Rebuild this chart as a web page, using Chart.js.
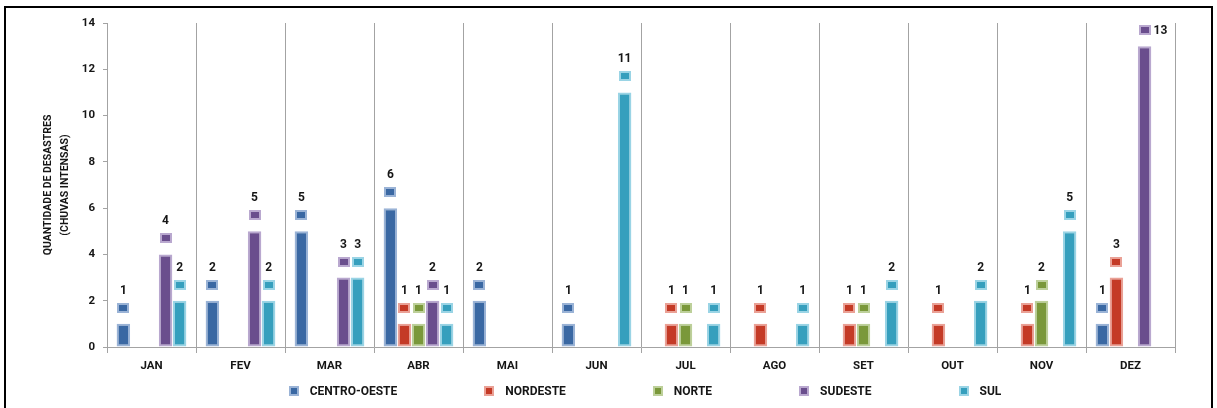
<!DOCTYPE html>
<html>
<head>
<meta charset="utf-8">
<script src="https://cdn.jsdelivr.net/npm/chart.js@4.4.1/dist/chart.umd.min.js"></script>
<style>
  html, body { margin: 0; padding: 0; background: #fff; width: 1217px; height: 408px; overflow: hidden; }
  #moldura { position: absolute; left: 4px; top: 6px; width: 1209px; height: 460px; border: 2px solid #000; box-sizing: border-box; }
  #grafico { position: absolute; left: 0; top: 0; }
</style>
</head>
<body>
<div id="moldura"></div>
<canvas id="grafico" width="1217" height="408"></canvas>
<script>
// Meses e número de desastres (chuvas intensas) por região
const meses = ['JAN', 'FEV', 'MAR', 'ABR', 'MAI', 'JUN', 'JUL', 'AGO', 'SET', 'OUT', 'NOV', 'DEZ'];
const centroOeste = [1, 2, 5, 6, 2, 1, 0, 0, 0, 0, 0, 1];
const nordeste    = [0, 0, 0, 1, 0, 0, 1, 1, 1, 1, 1, 3];
const norte       = [0, 0, 0, 1, 0, 0, 1, 0, 1, 0, 2, 0];
const sudeste     = [4, 5, 3, 2, 0, 0, 0, 0, 0, 0, 0, 13];
const sul         = [2, 2, 3, 1, 0, 11, 1, 1, 2, 2, 5, 0];
const regioes = ['CENTRO-OESTE', 'NORDESTE', 'NORTE', 'SUDESTE', 'SUL'];
const yMin = 0, yMax = 14, yPasso = 2;
const tituloY = ['QUANTIDADE DE DESASTRES', '(CHUVAS INTENSAS)'];

const FONTE = 'Roboto, "Open Sans", "Liberation Sans", sans-serif';
const TEXTO = '#161616';

// cor do preenchimento e cor clara da borda de cada região
const cores = [
  { fill: '#3a68a3', borda: '#9ab3d6' },
  { fill: '#c43a26', borda: '#eaa196' },
  { fill: '#7a983a', borda: '#bdd09a' },
  { fill: '#6a4e8d', borda: '#b9a8cf' },
  { fill: '#369fbd', borda: '#9ad4e5' }
];
const series = [centroOeste, nordeste, norte, sudeste, sul];

// pequeno quadrado de legenda: borda clara com miolo escuro
function quadradinho(ctx, cx, cy, cor, w, h) {
  ctx.fillStyle = cor.borda;
  ctx.fillRect(Math.round(cx - w / 2), Math.round(cy - h / 2), w, h);
  ctx.fillStyle = cor.fill;
  ctx.fillRect(Math.round(cx - w / 2) + 2, Math.round(cy - h / 2) + 2, w - 4, h - 4);
}

// rótulo de valor acima de cada barra: quadradinho + número
const rotulos = {
  id: 'rotulos',
  afterDatasetsDraw(chart) {
    const ctx = chart.ctx;
    ctx.save();
    chart.data.datasets.forEach((ds, i) => {
      const meta = chart.getDatasetMeta(i);
      meta.data.forEach((bar, j) => {
        const v = ds.data[j];
        if (!v) return;
        const cor = cores[i];
        const my = bar.y - 16;
        quadradinho(ctx, bar.x, my, cor, 12, 10);
        ctx.font = 'bold 12px ' + FONTE;
        ctx.fillStyle = TEXTO;
        ctx.textBaseline = 'middle';
        if (bar.y - 33 < chart.chartArea.top) {
          ctx.textAlign = 'left';
          ctx.fillText(String(v), bar.x + 9, my + 1);
        } else {
          ctx.textAlign = 'center';
          ctx.fillText(String(v), bar.x, bar.y - 33);
        }
      });
    });
    ctx.restore();
  }
};

// legenda horizontal abaixo do eixo das categorias
const legenda = {
  id: 'legenda',
  afterDraw(chart) {
    const ctx = chart.ctx;
    const area = chart.chartArea;
    ctx.save();
    ctx.font = 'bold 12px ' + FONTE;
    const caixa = 10, folga = 11, espaco = 87;
    const larguras = chart.data.datasets.map(d => ctx.measureText(d.label).width);
    const total = larguras.reduce((a, b) => a + b, 0) + chart.data.datasets.length * (caixa + folga) + espaco * (chart.data.datasets.length - 1);
    let x = (area.left + area.right) / 2 + 4 - total / 2;
    const y = 391;
    chart.data.datasets.forEach((d, i) => {
      quadradinho(ctx, x + caixa / 2, y, cores[i], caixa, caixa);
      ctx.fillStyle = TEXTO;
      ctx.textAlign = 'left';
      ctx.textBaseline = 'middle';
      ctx.fillText(d.label, x + caixa + folga, y + 1);
      x += caixa + folga + larguras[i] + espaco;
    });
    ctx.restore();
  }
};

new Chart(document.getElementById('grafico'), {
  type: 'bar',
  data: {
    labels: meses,
    datasets: regioes.map((nome, i) => ({
      label: nome,
      data: series[i],
      backgroundColor: cores[i].fill,
      borderColor: cores[i].borda,
      borderWidth: 2,
      borderSkipped: false,
      categoryPercentage: 0.79,
      barPercentage: 0.96
    }))
  },
  options: {
    responsive: false,
    animation: false,
    devicePixelRatio: 1,
    layout: { padding: { top: 23, right: 42, left: 0, bottom: 0 } },
    plugins: { legend: { display: false }, tooltip: { enabled: false } },
    scales: {
      x: {
        offset: true,
        grid: { display: true, offset: true, color: '#a3a3a3', lineWidth: 1, drawOnChartArea: true, drawTicks: true, tickLength: 6 },
        border: { display: true, color: '#a3a3a3', width: 1 },
        ticks: { color: TEXTO, font: { family: FONTE, weight: 'bold', size: 11.5 }, padding: 6, maxRotation: 0 },
        afterFit(s) { s.height = 61; }
      },
      y: {
        min: yMin, max: yMax,
        ticks: { stepSize: yPasso, color: TEXTO, font: { family: FONTE, weight: 'bold', size: 11.5 }, padding: 8 },
        grid: { display: true, drawOnChartArea: false, drawTicks: true, tickLength: 4, color: '#a3a3a3' },
        border: { display: true, color: '#a3a3a3', width: 1 },
        title: {
          display: true,
          text: tituloY,
          color: TEXTO,
          font: { family: FONTE, weight: 'bold', size: 10.5, lineHeight: 1.7 },
          padding: { top: 39, bottom: 0 }
        },
        afterFit(s) { s.width = 107; }
      }
    }
  },
  plugins: [rotulos, legenda]
});
</script>
</body>
</html>
